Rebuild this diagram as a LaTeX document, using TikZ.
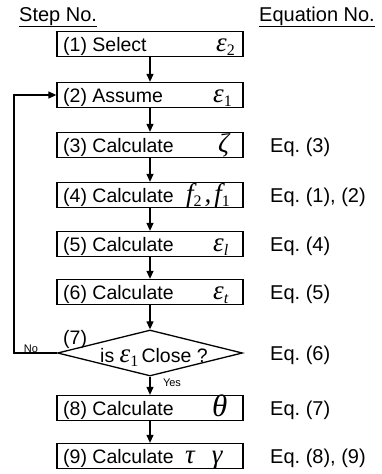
\documentclass[tikz,border=0pt]{standalone}
\usepackage{fontspec}
\setmainfont{Liberation Sans}
\newfontfamily\symfont{Liberation Serif}
\usetikzlibrary{arrows.meta,shapes.geometric}
\frenchspacing

% italic serif symbol and its subscript
\newcommand\gk[1]{{\symfont\itshape\fontsize{27}{27}\selectfont #1}}
\newcommand\sbs[1]{\raisebox{-4pt}{\symfont\fontsize{16}{16}\selectfont #1}}
\newcommand\sbi[1]{\raisebox{-4pt}{\symfont\itshape\fontsize{16}{16}\selectfont #1}}

\begin{document}
\begin{tikzpicture}[x=1pt,y=-1pt,
  stepbox/.style={draw, line width=1.3pt, minimum width=186pt, minimum height=25pt, inner sep=0pt},
  lbl/.style={anchor=base west, inner sep=0pt, font=\fontsize{19.5}{19.5}\selectfont},
  sym/.style={anchor=base west, inner sep=0pt},
  eqn/.style={anchor=base west, inner sep=0pt, font=\fontsize{20}{20}\selectfont},
  head/.style={anchor=base west, inner sep=0pt, font=\fontsize{20}{20}\selectfont},
  flow/.style={line width=1.2pt, -{Triangle[length=8pt,width=7pt]}},
  tiny/.style={inner sep=0pt, font=\fontsize{11}{11}\selectfont}]
\useasboundingbox (0,0) rectangle (382,474);

% column headings
\node[head] (h1) at (19,21) {\underline{Step No.}};
\node[head] (h2) at (259,21) {\underline{Equation No.}};

% step boxes
\node[stepbox] (s1) at (150,44) {};
\node[stepbox] (s2) at (150,95) {};
\node[stepbox] (s3) at (150,145) {};
\node[stepbox] (s4) at (150,195) {};
\node[stepbox] (s5) at (150,244) {};
\node[stepbox] (s6) at (150,292) {};
\node[draw, diamond, line width=1.3pt, minimum width=185pt, minimum height=46pt, inner sep=0pt] (d) at (150,353) {};
\node[stepbox] (s8) at (150,408) {};
\node[stepbox] (s9) at (150,456) {};

% step texts
\node[lbl] (t1) at (63,51) {(1) Select};
\node[lbl] (t2) at (63,102) {(2) Assume};
\node[lbl] (t3) at (63,152) {(3) Calculate};
\node[lbl] (t4) at (63,202) {(4) Calculate};
\node[lbl] (t5) at (63,251) {(5) Calculate};
\node[lbl] (t6) at (63,299) {(6) Calculate};
\node[lbl] (t7) at (63,344) {(7)};
\node[lbl] (t7b) at (100,362) {is \gk{ε}\sbs{1}\,Close ?};
\node[lbl] (t8) at (63,415) {(8) Calculate};
\node[lbl] (t9) at (63,463) {(9) Calculate};

% symbols
\node[sym] (g1) at (216,51) {\gk{ε}\sbs{2}};
\node[sym] (g2) at (213,102) {\gk{ε}\sbs{1}};
\node[sym] (g3) at (218,152) {\gk{ζ}};
\node[sym] (g4) at (186,202) {\gk{f}\sbs{2}\hspace{3pt}\gk{,}\hspace{3pt}\gk{f}\sbs{1}};
\node[sym] (g5) at (213,251) {\gk{ε}\sbi{l}};
\node[sym] (g6) at (213,299) {\gk{ε}\sbi{t}};
\node[sym] (g8) at (212,416) {{\symfont\itshape\fontsize{31}{31}\selectfont θ}};
\node[sym] (g9) at (185,463) {\gk{τ}\hspace{17pt}\gk{γ}};

% equation numbers
\node[eqn] (e3) at (270,152) {Eq. (3)};
\node[eqn] (e4) at (270,202) {Eq. (1), (2)};
\node[eqn] (e5) at (270,251) {Eq. (4)};
\node[eqn] (e6) at (270,299) {Eq. (5)};
\node[eqn] (e7) at (270,360) {Eq. (6)};
\node[eqn] (e8) at (270,415) {Eq. (7)};
\node[eqn] (e9) at (270,463) {Eq. (8), (9)};

% connectors
\draw[flow] (s1.south) -- (s2.north);
\draw[flow] (s2.south) -- (s3.north);
\draw[flow] (s3.south) -- (s4.north);
\draw[flow] (s4.south) -- (s5.north);
\draw[flow] (s5.south) -- (s6.north);
\draw[flow] (s6.south) -- (d.north);
\draw[flow] (d.south) -- (s8.north);
\draw[flow] (s8.south) -- (s9.north);
\coordinate (fb) at (14,0);
\draw[flow] (d.west) -- (d.west -| fb) |- (s2.west);

% branch labels
\node[tiny] (no) at (31,349) {No};
\node[tiny] (yes) at (172,383) {Yes};
\end{tikzpicture}
\end{document}
